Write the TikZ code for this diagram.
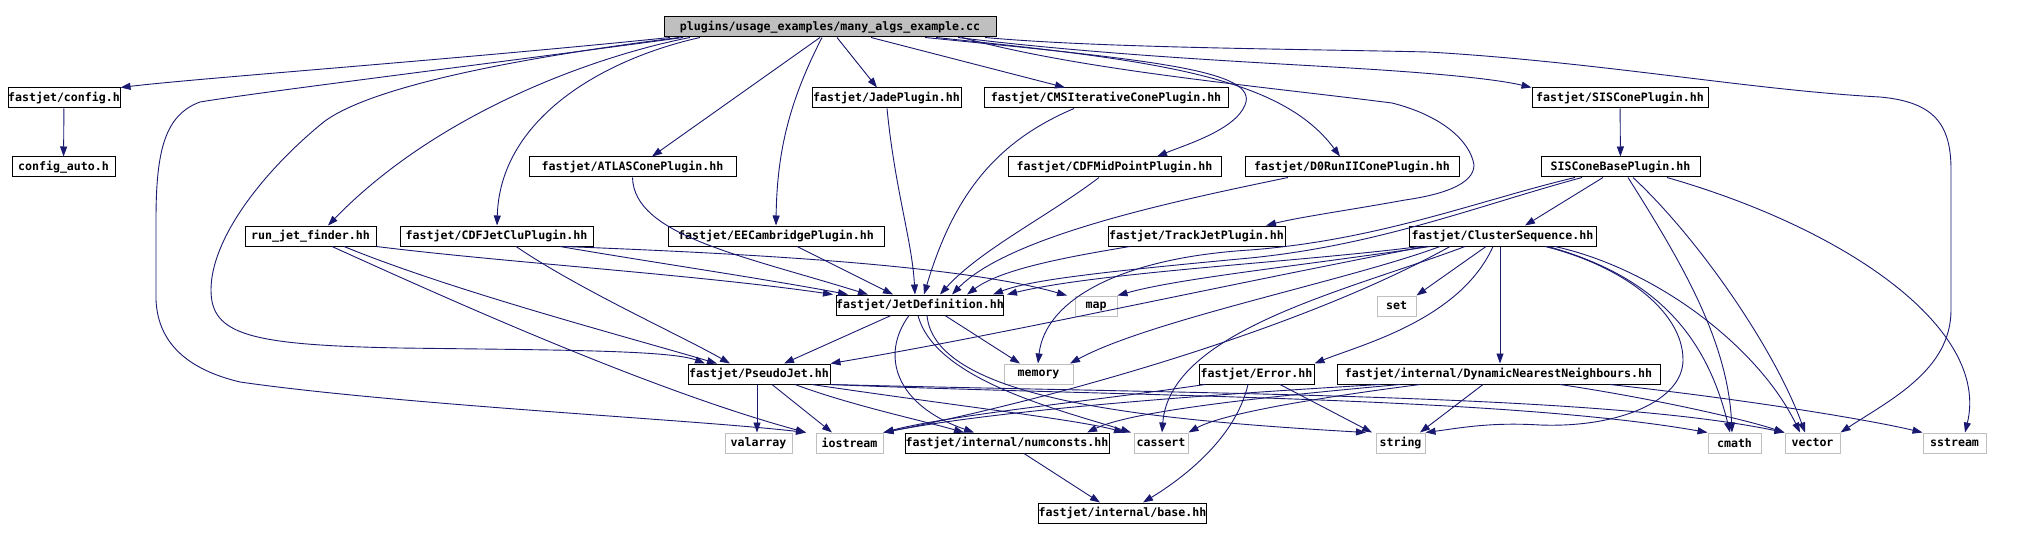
\documentclass[tikz,border=0pt]{standalone}
\usepackage{fontspec}
\newfontfamily\lblfont{DejaVu Sans Mono}
\usetikzlibrary{arrows.meta}
\definecolor{navy}{HTML}{191970}
\definecolor{lgray}{HTML}{BFBFBF}
\tikzset{
  hbox/.style={draw=black, text=black, line width=1pt, minimum height=20pt, inner sep=0pt, font={\lblfont\bfseries\fontsize{11.6}{12}\selectfont}},
  sysbox/.style={hbox, draw=lgray},
  mainbox/.style={hbox, fill=lgray},
  dep/.style={draw=navy, line width=0.9pt, -{Triangle[length=10pt,width=7pt]}},
}
\begin{document}
\begin{tikzpicture}[x=1pt,y=-1pt]
\fill[white] (0,0) rectangle (2020,540);
\useasboundingbox (0,0) rectangle (2020,540);
% nodes
\node[mainbox, minimum width=332] (main) at (830,27) {plugins/usage\_examples/many\_algs\_example.cc};
\node[hbox, minimum width=112] (config) at (64,98) {fastjet/config.h};
\node[hbox, minimum width=103] (configauto) at (63.5,167) {config\_auto.h};
\node[hbox, minimum width=149] (jade) at (886.5,98) {fastjet/JadePlugin.hh};
\node[hbox, minimum width=244] (cms) at (1106,98) {fastjet/CMSIterativeConePlugin.hh};
\node[hbox, minimum width=176] (sisplug) at (1620,98) {fastjet/SISConePlugin.hh};
\node[hbox, minimum width=207] (atlas) at (632.5,167) {fastjet/ATLASConePlugin.hh};
\node[hbox, minimum width=213] (cdfmid) at (1114.5,167) {fastjet/CDFMidPointPlugin.hh};
\node[hbox, minimum width=214] (d0) at (1352,167) {fastjet/D0RunIIConePlugin.hh};
\node[hbox, minimum width=159] (sisbase) at (1620.5,167) {SISConeBasePlugin.hh};
\node[hbox, minimum width=131] (runjet) at (310.5,236) {run\_jet\_finder.hh};
\node[hbox, minimum width=193] (cdfclu) at (496.5,236) {fastjet/CDFJetCluPlugin.hh};
\node[hbox, minimum width=216] (eecam) at (776,236) {fastjet/EECambridgePlugin.hh};
\node[hbox, minimum width=177] (trackjet) at (1196.5,236) {fastjet/TrackJetPlugin.hh};
\node[hbox, minimum width=187] (clseq) at (1502.5,236) {fastjet/ClusterSequence.hh};
\node[hbox, minimum width=164] (jetdef) at (920,305) {fastjet/JetDefinition.hh};
\node[sysbox, minimum width=42] (map) at (1096,306) {map};
\node[sysbox, minimum width=39] (set) at (1396.5,306) {set};
\node[hbox, minimum width=142] (pseudo) at (759,374) {fastjet/PseudoJet.hh};
\node[sysbox, minimum width=69] (memory) at (1038.5,374) {memory};
\node[hbox, minimum width=115] (error) at (1256.5,374) {fastjet/Error.hh};
\node[hbox, minimum width=323] (dnn) at (1498.5,374) {fastjet/internal/DynamicNearestNeighbours.hh};
\node[sysbox, minimum width=67] (valarray) at (758.5,443) {valarray};
\node[sysbox, minimum width=67] (iostream) at (849.5,443) {iostream};
\node[hbox, minimum width=204] (numconsts) at (1007,443) {fastjet/internal/numconsts.hh};
\node[sysbox, minimum width=54] (cassert) at (1161,443) {cassert};
\node[sysbox, minimum width=49] (string) at (1400.5,443) {string};
\node[sysbox, minimum width=53] (cmath) at (1734.5,443) {cmath};
\node[sysbox, minimum width=55] (vector) at (1812.5,443) {vector};
\node[sysbox, minimum width=63] (sstream) at (1954.5,443) {sstream};
\node[hbox, minimum width=163] (base) at (1122.5,513) {fastjet/internal/base.hh};
% edges from main
\draw[dep] (670,0 |- main.south) .. controls (450,60) and (200,78) .. (config.north east);
\draw[dep] (683,0 |- main.south) .. controls (480,65) and (260,92) .. (200,102) .. controls (165,115) and (156,150) .. (156,220) -- (156,300) .. controls (158,345) and (190,370) .. (240,382) .. controls (400,405) and (700,420) .. (806,0 |- iostream.north);
\draw[dep] (679,0 |- main.south) .. controls (500,60) and (360,90) .. (320,125) .. controls (260,175) and (211,240) .. (211,290) .. controls (211,335) and (250,345) .. (400,348) .. controls (550,350) and (670,350) .. (705,0 |- pseudo.north);
\draw[dep] (690,0 |- main.south) .. controls (600,55) and (440,110) .. (328,0 |- runjet.north);
\draw[dep] (700,0 |- main.south) .. controls (600,60) and (500,120) .. (497,0 |- cdfclu.north);
\draw[dep] (820,0 |- main.south) -- (652,0 |- atlas.north);
\draw[dep] (822,0 |- main.south) .. controls (790,100) and (777,150) .. (eecam.north);
\draw[dep] (837,0 |- main.south) -- (877,0 |- jade.north);
\draw[dep] (871,0 |- main.south) -- (1065,0 |- cms.north);
\draw[dep] (925,0 |- main.south) .. controls (1150,60) and (1260,70) .. (1245,105) .. controls (1235,130) and (1185,145) .. (1157,0 |- cdfmid.north);
\draw[dep] (936,0 |- main.south) .. controls (1150,60) and (1280,75) .. (1340,0 |- d0.north);
\draw[dep] (962,0 |- main.south) .. controls (1080,70) and (1250,85) .. (1392,103) .. controls (1440,115) and (1470,140) .. (1474,165) .. controls (1474,185) and (1440,195) .. (1405,200) .. controls (1350,210) and (1300,217) .. (1266,0 |- trackjet.north);
\draw[dep] (958,0 |- main.south) .. controls (1100,55) and (1250,62) .. (1350,68) .. controls (1450,74) and (1500,80) .. (sisplug.north west);
\draw[dep] (985,0 |- main.south) .. controls (1100,48) and (1300,49) .. (1428,52) .. controls (1600,62) and (1750,90) .. (1880,97) .. controls (1935,102) and (1951,125) .. (1951,170) -- (1951,310) .. controls (1951,370) and (1890,400) .. (vector.north east);
% simple chains
\draw[dep] (config) -- (configauto);
\draw[dep] (sisplug) -- (sisbase);
% run_jet_finder
\draw[dep] (runjet.south east) .. controls (500,262) and (700,275) .. (833,0 |- jetdef.north);
\draw[dep] (344,0 |- runjet.south) .. controls (450,290) and (620,335) .. (717,0 |- pseudo.north);
\draw[dep] (332,0 |- runjet.south) .. controls (450,300) and (650,390) .. (806,0 |- iostream.north);
% CDFJetClu
\draw[dep] (560,0 |- cdfclu.south) .. controls (650,262) and (760,278) .. (848,0 |- jetdef.north);
\draw[dep] (565,0 |- cdfclu.south) .. controls (700,252) and (950,262) .. (1067,0 |- map.north);
\draw[dep] (516,0 |- cdfclu.south) .. controls (580,290) and (680,335) .. (730,0 |- pseudo.north);
% plugins to JetDefinition
\draw[dep] (atlas.south) .. controls (634,235) and (740,255) .. (868,0 |- jetdef.north);
\draw[dep] (797,0 |- eecam.south) -- (893,0 |- jetdef.north);
\draw[dep] (887,0 |- jade.south) .. controls (895,190) and (912,240) .. (915,0 |- jetdef.north);
\draw[dep] (1074,0 |- cms.south) .. controls (1000,140) and (955,190) .. (924,0 |- jetdef.north);
\draw[dep] (1099,0 |- cdfmid.south) .. controls (1050,215) and (980,250) .. (940,0 |- jetdef.north);
\draw[dep] (1288,0 |- d0.south) .. controls (1180,200) and (1010,235) .. (952,0 |- jetdef.north);
\draw[dep] (1130,0 |- trackjet.south) .. controls (1060,258) and (1000,270) .. (967,0 |- jetdef.north);
% SISConeBasePlugin
\draw[dep] (1582,0 |- sisbase.south) .. controls (1480,205) and (1380,245) .. (1250,258) .. controls (1100,272) and (1030,280) .. (993,0 |- jetdef.north);
\draw[dep] (1575,0 |- sisbase.south) .. controls (1480,200) and (1380,240) .. (1250,250) .. controls (1120,258) and (1045,300) .. (1038,0 |- memory.north);
\draw[dep] (1603,0 |- sisbase.south) -- (1525,0 |- clseq.north);
\draw[dep] (1628,0 |- sisbase.south) .. controls (1680,260) and (1728,340) .. (1732,0 |- cmath.north);
\draw[dep] (1633,0 |- sisbase.south) .. controls (1700,240) and (1775,350) .. (1805,0 |- vector.north);
\draw[dep] (1667,0 |- sisbase.south) .. controls (1850,230) and (1990,330) .. (1965,0 |- sstream.north);
% ClusterSequence
\draw[dep] (1420,0 |- clseq.south) .. controls (1300,262) and (1100,272) .. (1007,0 |- jetdef.north);
\draw[dep] (1430,0 |- clseq.south) .. controls (1300,266) and (1180,278) .. (map.north east);
\draw[dep] (1440,0 |- clseq.south) .. controls (1350,280) and (1150,320) .. (1070,0 |- memory.north);
\draw[dep] (1425,0 |- clseq.south) .. controls (1200,290) and (1000,335) .. (pseudo.north east);
\draw[dep] (1450,0 |- clseq.south) .. controls (1300,330) and (1050,400) .. (iostream.north east);
\draw[dep] (1465,0 |- clseq.south) .. controls (1350,290) and (1170,330) .. (1162,0 |- cassert.north);
\draw[dep] (1493,0 |- clseq.south) .. controls (1460,320) and (1360,345) .. (error.north east);
\draw[dep] (1486,0 |- clseq.south) -- (set.north east);
\draw[dep] (1500,0 |- clseq.south) -- (1500,0 |- dnn.north);
\draw[dep] (1545,0 |- clseq.south) .. controls (1620,265) and (1683,310) .. (1683,360) .. controls (1683,400) and (1620,428) .. (1540,425) .. controls (1490,422) and (1460,428) .. (string.north east);
\draw[dep] (1548,0 |- clseq.south) .. controls (1650,275) and (1705,330) .. (1730,0 |- cmath.north);
\draw[dep] (1555,0 |- clseq.south) .. controls (1660,270) and (1760,350) .. (1800,0 |- vector.north);
% Error
\draw[dep] (1280,0 |- error.south) -- (1372,0 |- string.north);
\draw[dep] (1248,0 |- error.south) .. controls (1235,440) and (1180,480) .. (1143,0 |- base.north);
\draw[dep] (1205,0 |- error.south) .. controls (1100,400) and (950,415) .. (iostream.north east);
% DynamicNearestNeighbours
\draw[dep] (1380,0 |- dnn.south) .. controls (1200,395) and (1000,410) .. (iostream.north east);
\draw[dep] (1400,0 |- dnn.south) .. controls (1250,398) and (1130,412) .. (1087,0 |- numconsts.north);
\draw[dep] (1420,0 |- dnn.south) .. controls (1300,400) and (1220,415) .. (cassert.north east);
\draw[dep] (1483,0 |- dnn.south) -- (1420,0 |- string.north);
\draw[dep] (1560,0 |- dnn.south) .. controls (1650,398) and (1740,418) .. (vector.north west);
\draw[dep] (1610,0 |- dnn.south) .. controls (1750,400) and (1870,420) .. (sstream.north west);
% PseudoJet
\draw[dep] (757,0 |- pseudo.south) -- (757,0 |- valarray.north);
\draw[dep] (772,0 |- pseudo.south) -- (832,0 |- iostream.north);
\draw[dep] (795,0 |- pseudo.south) .. controls (850,405) and (920,420) .. (964,0 |- numconsts.north);
\draw[dep] (812,0 |- pseudo.south) .. controls (950,405) and (1080,420) .. (1124,0 |- cassert.north);
\draw[dep] (pseudo.south east) .. controls (1100,396) and (1500,396) .. (cmath.north west);
\draw[dep] (pseudo.south east) .. controls (1200,394) and (1600,394) .. (vector.north west);
% JetDefinition
\draw[dep] (891,0 |- jetdef.south) -- (784,0 |- pseudo.north);
\draw[dep] (909,0 |- jetdef.south) .. controls (880,355) and (895,405) .. (974,0 |- numconsts.north);
\draw[dep] (918,0 |- jetdef.south) .. controls (935,380) and (1060,410) .. (1131,0 |- cassert.north);
\draw[dep] (927,0 |- jetdef.south) .. controls (935,400) and (1150,420) .. (1366,0 |- string.north);
\draw[dep] (945,0 |- jetdef.south) -- (1020,0 |- memory.north);
% numconsts
\draw[dep] (1024,0 |- numconsts.south) -- (1100,0 |- base.north);
\end{tikzpicture}
\end{document}
